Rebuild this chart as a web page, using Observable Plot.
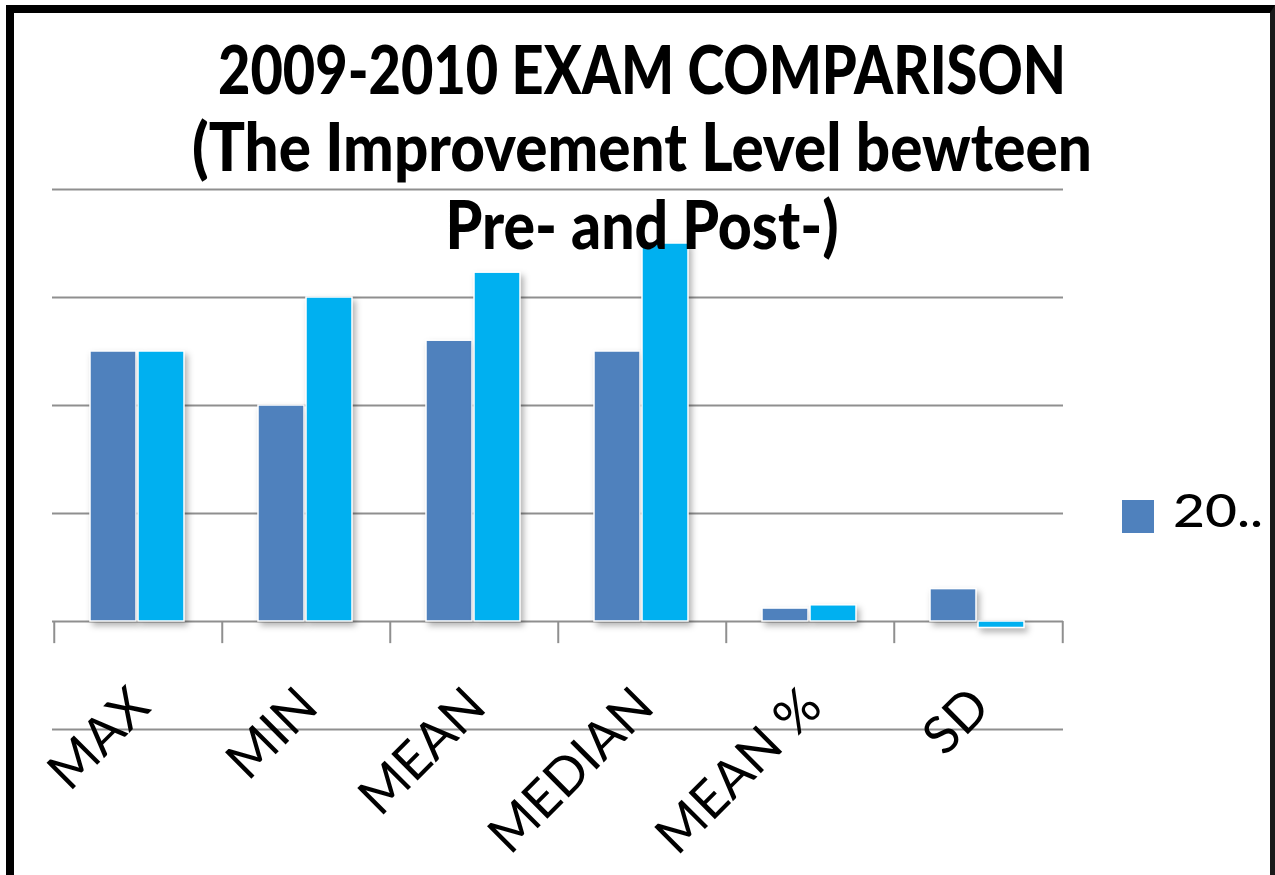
<!DOCTYPE html>
<html><head><meta charset="utf-8">
<script src="https://cdn.jsdelivr.net/npm/d3@7"></script>
<script src="https://cdn.jsdelivr.net/npm/@observablehq/plot@0.6"></script>
<style>
body{margin:0;background:#fff;}
#wrap{position:relative;width:1275px;height:875px;overflow:hidden;background:#fff;}
#chart{position:absolute;left:0;top:0;}
#overlay{position:absolute;left:0;top:0;pointer-events:none;}
#frame{position:absolute;left:6px;top:5px;width:1269px;height:880px;box-sizing:border-box;border-left:8px solid #000;border-top:8px solid #000;border-right:5px solid #1a1a1a;}
g[aria-label="bar"] rect{filter:drop-shadow(3px 4px 3px rgba(0,0,0,0.3));}
</style></head><body>
<div id="wrap"><div id="chart"></div><svg id="overlay" width="1275" height="875"></svg><div id="frame"></div></div>
<script>
const categories = ["MAX", "MIN", "MEAN", "MEDIAN", "MEAN %", "SD"];
const preValues = [25, 20, 26, 25, 1.2, 3];
const postValues = [25, 30, 32.3, 35, 1.5, -0.6];
const gridValues = [-10, 0, 10, 20, 30, 40];
const titleLines = ["2009-2010 EXAM COMPARISON", "(The Improvement Level bewteen", "Pre- and Post-)"];
const legendLabel = "20..";

const W = 1275, H = 875, ml = 52, mr = 212, mt = 189, mb = 146;
const step = (W - ml - mr) / categories.length;
const rows = categories.map((c, i) => ({cat: c, pre: preValues[i], post: postValues[i]}));
const gridColor = "#8f8f8f";

const plot = Plot.plot({
  width: W, height: H,
  marginLeft: ml, marginRight: mr, marginTop: mt, marginBottom: mb,
  x: {domain: categories, padding: 0, axis: null},
  y: {domain: [-10, 40], axis: null},
  style: {background: "transparent", fontFamily: "Lato, sans-serif"},
  marks: [
    Plot.ruleY(gridValues, {stroke: gridColor, strokeWidth: 2}),
    Plot.ruleX(categories, {x: d => d, dx: -step / 2, y1: 0, y2: -2.05, stroke: gridColor, strokeWidth: 2}),
    Plot.ruleX(categories.slice(-1), {x: d => d, dx: step / 2, y1: 0, y2: -2.05, stroke: gridColor, strokeWidth: 2}),
    Plot.barY(rows, {x: "cat", y: "pre", fill: "#4F81BD", stroke: "#fff", strokeWidth: 1.5, insetLeft: 36, insetRight: 86}),
    Plot.barY(rows, {x: "cat", y: "post", fill: "#00B0F0", stroke: "#fff", strokeWidth: 1.5, insetLeft: 84, insetRight: 38}),
    Plot.text(categories, {x: d => d, frameAnchor: "bottom", dx: 14, dy: -20, rotate: -45, textAnchor: "end", lineAnchor: "bottom", fontSize: 52, fill: "#000"})
  ]
});
document.getElementById("chart").appendChild(plot);

const ov = d3.select("#overlay");
const titleY = [94, 171, 249], titleW = [848, 900, 393];
titleLines.forEach((t, i) => {
  ov.append("text").attr("x", 642).attr("y", titleY[i]).attr("text-anchor", "middle")
    .attr("font-family", "Lato, sans-serif").attr("font-weight", 900).attr("font-size", 66)
    .attr("textLength", titleW[i]).attr("lengthAdjust", "spacingAndGlyphs").attr("fill", "#000").text(t);
});
ov.append("rect").attr("x", 1122).attr("y", 500).attr("width", 32).attr("height", 33).attr("fill", "#4F81BD");
ov.append("text").attr("x", 1173).attr("y", 527).attr("font-family", "Lato, sans-serif").attr("font-size", 46).attr("font-weight", 500)
  .attr("textLength", 90).attr("lengthAdjust", "spacingAndGlyphs").attr("fill", "#000").text(legendLabel);
</script>
</body></html>
